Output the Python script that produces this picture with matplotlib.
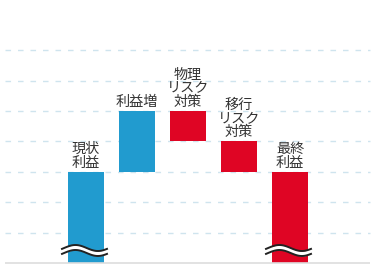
import numpy as np
import matplotlib.pyplot as plt

plt.rcParams['font.family'] = ['Noto Sans CJK JP', 'DejaVu Sans']

# data (grid units)
labels = ['現状\n利益', '利益増', '物理\nリスク\n対策', '移行\nリスク\n対策', '最終\n利益']
start_value = 3
deltas = [2, -1, -1]
final_value = 3
bar_colors = ['#219bcf', '#219bcf', '#df0524', '#df0524', '#df0524']

# waterfall bottoms / heights
bottoms = [0]
heights = [start_value]
level = start_value
for d in deltas:
    bottoms.append(min(level, level + d))
    heights.append(abs(d))
    level += d
bottoms.append(0)
heights.append(final_value)

x = np.arange(len(labels))
px = 51.0       # pixels per category
py = 30.4       # pixels per grid unit

fig = plt.figure(figsize=(3.76, 2.72), dpi=100)
ax = fig.add_axes([0, 0, 1, 1])
ax.set_xlim(-86 / px, (376 - 86) / px)
ax.set_ylim(-9 / py, 263 / py)
ax.axis('off')

# grid lines
ax.hlines(np.arange(1, 8), -81 / px, 284 / px, colors='#cfe4ee', linewidth=1,
          linestyles=(0, (4, 5)), zorder=0)
ax.hlines(0, -81 / px, 284 / px, colors='#dddddd', linewidth=1.2, zorder=3)

ax.bar(x, heights, bottom=bottoms, width=36 / px, color=bar_colors, zorder=2)

# labels above bars
for i, lab in enumerate(labels):
    ax.annotate(lab, (x[i], bottoms[i] + heights[i]), xytext=(0, 1.5),
                textcoords='offset points', ha='center', va='bottom',
                fontsize=10.2, color='#333333', linespacing=0.95)

# break marks on the full bars
for i in [0, len(labels) - 1]:
    t = np.linspace(-24, 21, 100)
    wave = 3 * np.sin((t + 24) / 45 * 2 * np.pi - 0.3)
    xs = x[i] + t / px
    y_low = (263 - 253 + wave) / py
    y_high = (263 - 248 + wave) / py
    ax.fill_between(xs, y_low, y_high, color='white', zorder=4, linewidth=0)
    ax.plot(xs, y_low, color='#222222', linewidth=1.4, zorder=5)
    ax.plot(xs, y_high, color='#222222', linewidth=1.4, zorder=5)

fig.savefig('out.png', dpi=100)
